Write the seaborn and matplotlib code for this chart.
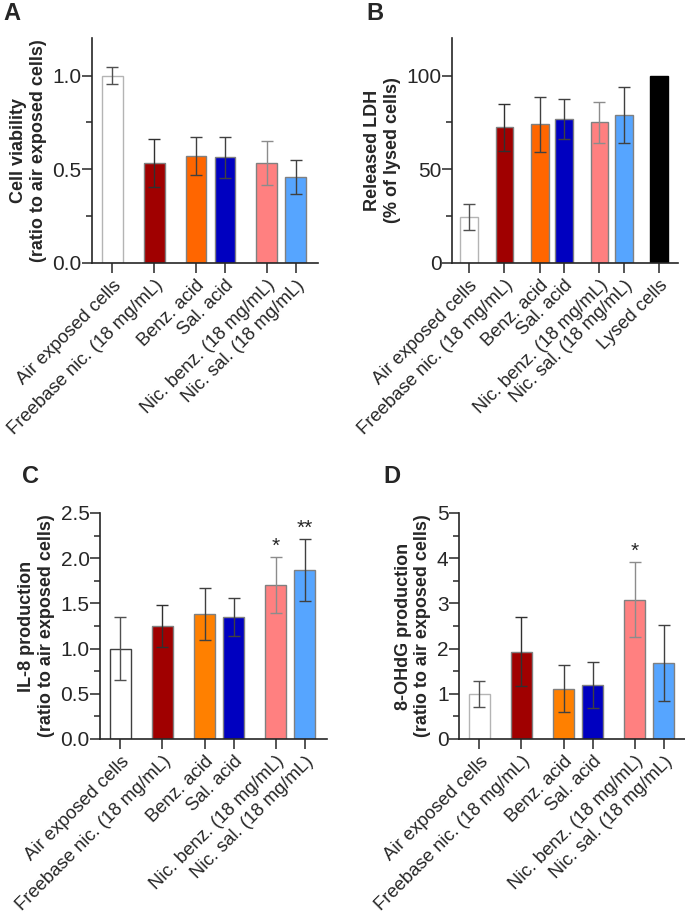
import seaborn as sns
import matplotlib.pyplot as plt
import matplotlib.ticker as mticker
import pandas as pd
import numpy as np

sns.set_style('white')
plt.rcParams['font.family'] = ['Liberation Sans', 'DejaVu Sans']

# -- DATA -- #
labels = ['Air exposed cells', 'Freebase nic. (18 mg/mL)', 'Benz. acid', 'Sal. acid',
          'Nic. benz. (18 mg/mL)', 'Nic. sal. (18 mg/mL)', 'Lysed cells']
cluster_sizes = [1, 1, 2, 2, 1]  # bars that sit side by side

viability_mean = [1.0, 0.533, 0.572, 0.563, 0.535, 0.458]
viability_sd = [0.044, 0.126, 0.100, 0.109, 0.118, 0.089]

ldh_mean = [24.5, 72.4, 74.0, 76.9, 75.1, 78.8, 100.0]
ldh_sd = [7.0, 12.5, 14.7, 10.8, 11.0, 15.0, np.nan]

il8_mean = [1.0, 1.25, 1.38, 1.35, 1.70, 1.87]
il8_sd = [0.35, 0.23, 0.29, 0.21, 0.31, 0.34]
il8_stars = ['', '', '', '', '*', '**']

ohdg_mean = [1.0, 1.93, 1.11, 1.20, 3.08, 1.69]
ohdg_sd = [0.29, 0.76, 0.52, 0.51, 0.83, 0.84]
ohdg_stars = ['', '', '', '', '*', '']

colors_top = ['white', '#a00000', '#ff6600', '#0000c0', '#ff8080', '#56a5ff', 'black']
colors_bottom = ['white', '#a00000', '#ff8000', '#0000c0', '#ff8080', '#56a5ff', 'black']
err_colors = ['#505050', '#303030', '#404040', '#404040', '#8c8c8c', '#404040', 'black']

# x positions: unit step inside a cluster, wider step between clusters
gap = 1.45
positions = []
x = 0.0
for size in cluster_sizes:
    for k in range(size):
        positions.append(x + k)
    x = positions[-1] + gap


def bar_panel(ax, means, sds, colors, ylim, major, minor, ylabel, stars=None, air_edge='#b4b4b4'):
    n = len(means)
    pos = positions[:n]
    df = pd.DataFrame({'pos': pos, 'value': means, 'cond': labels[:n]})
    sns.barplot(data=df, x='pos', y='value', hue='cond', hue_order=labels[:n],
                palette=dict(zip(labels, colors)), native_scale=True, dodge=False,
                width=0.72, errorbar=None, legend=False, edgecolor='#808080',
                linewidth=1, saturation=1, ax=ax)
    ax.patches[0].set_edgecolor(air_edge)
    if n == 7:
        ax.patches[6].set_edgecolor('black')

    for i in range(n):
        if np.isnan(sds[i]):
            continue
        ax.errorbar(pos[i], means[i], yerr=sds[i], fmt='none', ecolor=err_colors[i],
                    elinewidth=1, capsize=4, capthick=1, zorder=3)
        if stars and stars[i]:
            ax.text(pos[i], means[i] + sds[i] + ylim * 0.005, stars[i], ha='center',
                    va='bottom', fontsize=15)

    ax.set_xlim(-0.7, pos[-1] + 0.77)
    ax.set_ylim(0, ylim)
    ax.yaxis.set_major_locator(mticker.MultipleLocator(major))
    ax.yaxis.set_minor_locator(mticker.MultipleLocator(minor))
    ax.set_xticks(pos)
    ax.set_xticklabels(labels[:n], rotation=45, ha='right', rotation_mode='anchor', fontsize=13.3)
    ax.tick_params(axis='both', which='major', length=7, width=1.1, color='#262626',
                   bottom=True, left=True)
    ax.tick_params(axis='y', labelsize=15, pad=0.5)
    ax.tick_params(axis='x', labelsize=13.3, pad=3)
    ax.tick_params(axis='y', which='minor', length=4, width=1.1, color='#262626', left=True)
    ax.set_xlabel('')
    ax.set_ylabel(ylabel, fontsize=13, fontweight='bold', labelpad=4)
    sns.despine(ax=ax)
    for s in ['left', 'bottom']:
        ax.spines[s].set_linewidth(1.2)
        ax.spines[s].set_color('#262626')


fig = plt.figure(figsize=(6.85, 9.16), dpi=100)
W, H = 685, 916


def add_axes(left, top, right, bottom):
    return fig.add_axes([left / W, 1 - bottom / H, (right - left) / W, (bottom - top) / H])


axA = add_axes(92, 38, 318, 263)
axB = add_axes(452, 38, 678, 263)
axC = add_axes(100, 513, 327, 739)
axD = add_axes(459, 513, 686, 739)

bar_panel(axA, viability_mean, viability_sd, colors_top, 1.2, 0.5, 0.25,
          'Cell viability\n(ratio to air exposed cells)')
axA.yaxis.set_major_formatter(mticker.FormatStrFormatter('%.1f'))
bar_panel(axB, ldh_mean, ldh_sd, colors_top, 120, 50, 25,
          'Released LDH\n(% of lysed cells)')
bar_panel(axC, il8_mean, il8_sd, colors_bottom, 2.5, 0.5, 0.25,
          'IL-8 production\n(ratio to air exposed cells)', stars=il8_stars, air_edge='#404040')
axC.yaxis.set_major_formatter(mticker.FormatStrFormatter('%.1f'))
bar_panel(axD, ohdg_mean, ohdg_sd, colors_bottom, 5, 1, 0.5,
          '8-OHdG production\n(ratio to air exposed cells)', stars=ohdg_stars)

for letter, (px, py) in zip('ABCD', [(3, 2), (366, 2), (22, 465), (383, 465)]):
    fig.text(px / W, 1 - py / H, letter, fontsize=17, fontweight='bold', ha='left', va='top')

plt.savefig('out.png', dpi=100)
